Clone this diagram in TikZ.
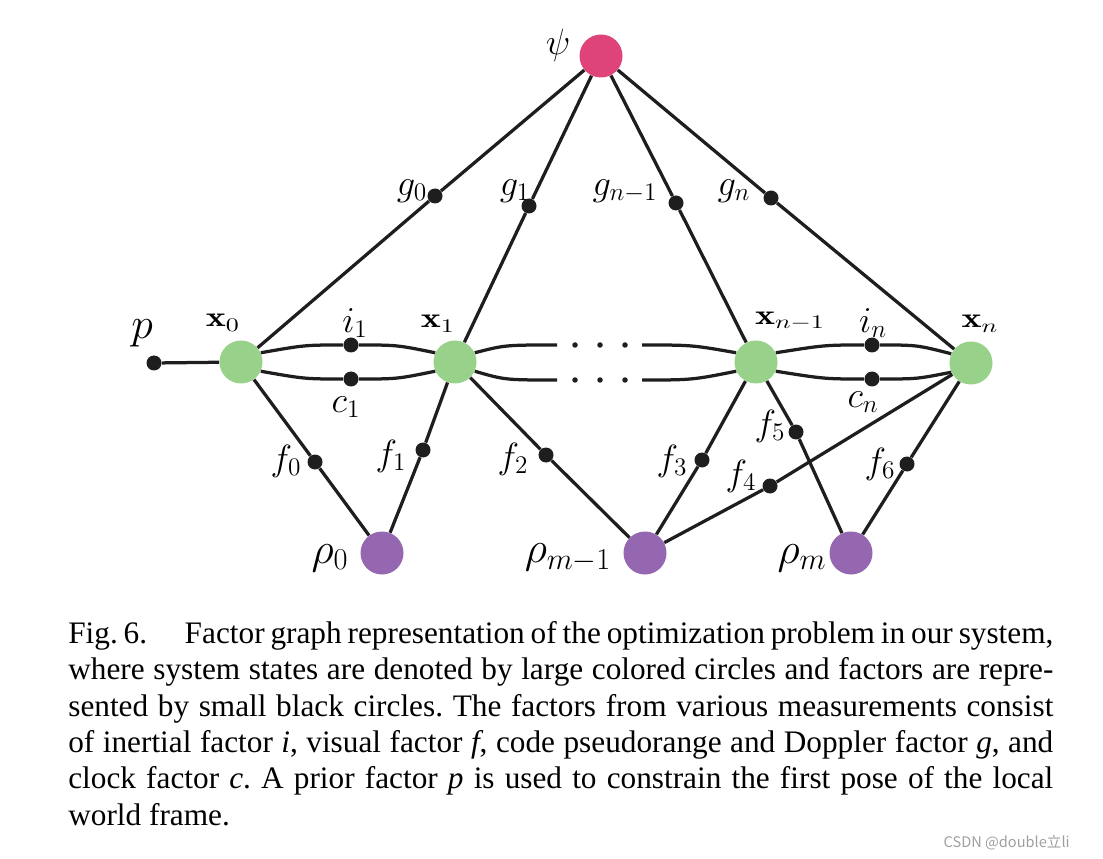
\documentclass[tikz,border=0pt]{standalone}
\usepackage{amsmath,amssymb}
\usepackage{graphicx}
\usepackage{fontspec}
\usepackage{tikz}
\newfontfamily\capfont{Liberation Serif}
\newfontfamily\markfont{Noto Sans CJK SC}
\definecolor{xcol}{HTML}{98D18A}
\definecolor{psicol}{HTML}{DE447A}
\definecolor{rhocol}{HTML}{9467B0}
\definecolor{linec}{HTML}{1E1E1E}
\newcommand{\widelbl}[1]{\scalebox{1.35}[1]{#1}}

\begin{document}
\begin{tikzpicture}[x=0.2mm, y=-0.2mm,
    state/.style={circle, inner sep=0pt, minimum size=8.6mm},
    factor/.style={circle, fill=linec, inner sep=0pt, minimum size=3mm},
    edge/.style={draw=linec, line width=0.65mm},
    lbl/.style={inner sep=0pt, font=\fontsize{21}{21}\selectfont},
    xlbl/.style={inner sep=0pt, font=\fontsize{16}{16}\selectfont},
    biglbl/.style={inner sep=0pt, font=\fontsize{24}{24}\selectfont}]
    \useasboundingbox (0,0) rectangle (1103,859);
    % states
    \node[state, fill=psicol] (psi) at (601,56) {};
    \node[state, fill=xcol] (x0) at (241,362) {};
    \node[state, fill=xcol] (x1) at (455,362) {};
    \node[state, fill=xcol] (xn1) at (756,362) {};
    \node[state, fill=xcol] (xn) at (971,363) {};
    \node[state, fill=rhocol] (rho0) at (382,553) {};
    \node[state, fill=rhocol] (rhom1) at (645,553) {};
    \node[state, fill=rhocol] (rhom) at (851,553) {};
    % factors
    \node[factor] (p) at (154,363) {};
    \node[factor] (g0) at (435,196) {};
    \node[factor] (g1) at (529,206) {};
    \node[factor] (gn1) at (676,203) {};
    \node[factor] (gn) at (771,198) {};
    \node[factor] (i1) at (351,345) {};
    \node[factor] (c1) at (351,379) {};
    \node[factor] (in) at (872,345) {};
    \node[factor] (cn) at (872,379) {};
    \node[factor] (f0) at (315,462) {};
    \node[factor] (f1) at (423,450) {};
    \node[factor] (f2) at (546,455) {};
    \node[factor] (f3) at (702,460) {};
    \node[factor] (f4) at (770,486) {};
    \node[factor] (f5) at (796,432) {};
    \node[factor] (f6) at (907,464) {};
    % gap in the chain
    \coordinate (dl1) at (557,345);
    \coordinate (dl2) at (557,380);
    \coordinate (dr1) at (642,345);
    \coordinate (dr2) at (642,380);
    \foreach \dx in {575,600,625} {
      \fill[linec] (\dx,345) circle (0.55mm);
      \fill[linec] (\dx,380) circle (0.55mm);
    }
    % edges
    \draw[edge] (p) -- (x0);
    \draw[edge] (x0) -- (g0) -- (psi);
    \draw[edge] (x1) -- (g1) -- (psi);
    \draw[edge] (xn1) -- (gn1) -- (psi);
    \draw[edge] (xn) -- (gn) -- (psi);
    \draw[edge] (x0.25) .. controls (305,345) .. (i1) .. controls (397,345) .. (x1.155);
    \draw[edge] (x0.-25) .. controls (305,379) .. (c1) .. controls (397,379) .. (x1.-155);
    \draw[edge] (x1.25) .. controls (505,345) .. (dl1);
    \draw[edge] (x1.-25) .. controls (505,380) .. (dl2);
    \draw[edge] (dr1) .. controls (692,345) .. (xn1.155);
    \draw[edge] (dr2) .. controls (692,380) .. (xn1.-155);
    \draw[edge] (xn1.25) .. controls (825,345) .. (in) .. controls (917,345) .. (xn.155);
    \draw[edge] (xn1.-25) .. controls (825,379) .. (cn) .. controls (917,379) .. (xn.-155);
    \draw[edge] (x0) -- (f0) -- (rho0);
    \draw[edge] (x1) -- (f1) -- (rho0);
    \draw[edge] (x1) -- (f2) -- (rhom1);
    \draw[edge] (xn1) -- (f3) -- (rhom1);
    \draw[edge] (xn) -- (f4) -- (rhom1);
    \draw[edge] (xn1) -- (f5) -- (rhom);
    \draw[edge] (xn) -- (f6) -- (rhom);
    % labels
    \node[lbl] (lpsi) at (558,45) {$\psi$};
    \node[biglbl] (lp) at (142,333) {$p$};
    \node[xlbl] (lx0) at (223,323) {\widelbl{$\mathbf{x}_0$}};
    \node[xlbl] (lx1) at (438,324) {\widelbl{$\mathbf{x}_1$}};
    \node[xlbl] (lxn1) at (790,321) {\widelbl{$\mathbf{x}_{n-1}$}};
    \node[xlbl] (lxn) at (980,324) {\widelbl{$\mathbf{x}_n$}};
    \node[lbl] (li1) at (355,323) {$i_1$};
    \node[lbl] (lc1) at (346,407) {$c_1$};
    \node[lbl] (lin) at (873,323) {$i_n$};
    \node[lbl] (lcn) at (863,402) {$c_n$};
    \node[lbl] (lg0) at (412,191) {$g_0$};
    \node[lbl] (lg1) at (515,191) {$g_1$};
    \node[lbl] (lgn1) at (625,191) {$g_{n-1}$};
    \node[lbl] (lgn) at (734,191) {$g_n$};
    \node[lbl] (lf0) at (286,461) {$f_0$};
    \node[lbl] (lf1) at (391,456) {$f_1$};
    \node[lbl] (lf2) at (513,459) {$f_2$};
    \node[lbl] (lf3) at (672,461) {$f_3$};
    \node[lbl] (lf4) at (741,476) {$f_4$};
    \node[lbl] (lf5) at (770,426) {$f_5$};
    \node[lbl] (lf6) at (880,464) {$f_6$};
    \node[biglbl] (lrho0) at (330,558) {$\rho_0$};
    \node[biglbl] (lrhom1) at (568,558) {$\rho_{m-1}$};
    \node[biglbl] (lrhom) at (802,558) {$\rho_m$};
    % caption
    \node[anchor=north west, inner sep=0pt, text width=19.7cm, align=justify,
      font=\capfont\fontsize{17.8}{20.7}\selectfont\frenchspacing] (cap) at (68,621)
      {Fig.~6.\hspace{1.2em}Factor graph representation of the optimization problem in our system,\linebreak
      where system states are denoted by large colored circles and factors are repre-\linebreak
      sented by small black circles. The factors from various measurements consist\linebreak
      of inertial factor \textit{i}, visual factor \textit{f}, code pseudorange and Doppler factor \textit{g}, and\linebreak
      clock factor \textit{c}. A prior factor \textit{p} is used to constrain the first pose of the local\linebreak
      world frame.};
    \node[anchor=east, inner sep=0pt, text=gray!75,
      font=\markfont\fontsize{8.3}{8.3}\selectfont] (mark) at (1070,843) {CSDN @double立li};
\end{tikzpicture}
\end{document}
